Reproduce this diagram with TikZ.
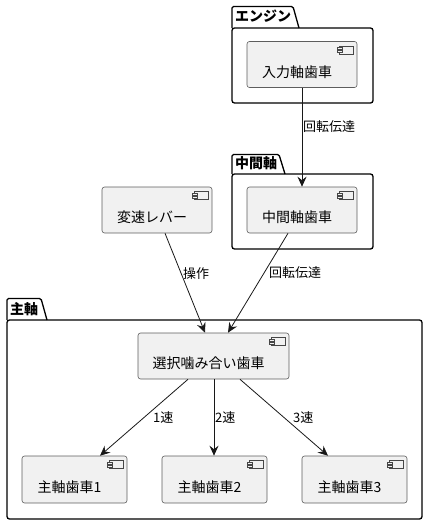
\documentclass[tikz,border=0pt]{standalone}
\usepackage{fontspec}
\setmainfont{Noto Sans CJK JP}
\usetikzlibrary{arrows.meta,calc}
\definecolor{compfill}{HTML}{F1F1F1}
\definecolor{compline}{HTML}{181818}
\tikzset{
  comp/.style={draw=compline!70, fill=compfill, line width=0.6pt, rounded corners=2.5pt,
    minimum width=110pt, minimum height=46pt, inner sep=0pt, font=\fontsize{14}{16}\selectfont,
    text height=25pt, text depth=0pt, execute at end node={\hspace{10pt}}},
  pkg/.style={draw=black, line width=1.3pt, rounded corners=2.5pt},
  pkglabel/.style={anchor=west, inner sep=0pt, font=\fontsize{14}{16}\selectfont\bfseries},
  arr/.style={draw=compline, line width=0.8pt, -{Stealth[length=10pt,width=9pt,inset=3.5pt]}},
  lbl/.style={anchor=west, inner sep=0pt, font=\fontsize{13}{15}\selectfont},
}
\newcommand{\compicon}[1]{%
  \draw[compline!80, line width=0.5pt, fill=compfill] ($(#1.north east)+(-18,5)$) rectangle ($(#1.north east)+(-4,13)$);
  \draw[compline!80, line width=0.5pt, fill=compfill] ($(#1.north east)+(-20.5,6.5)$) rectangle ($(#1.north east)+(-15.5,8.5)$);
  \draw[compline!80, line width=0.5pt, fill=compfill] ($(#1.north east)+(-20.5,9.5)$) rectangle ($(#1.north east)+(-15.5,11.5)$);
}
\begin{document}
\begin{tikzpicture}[x=1pt,y=-1pt]
\useasboundingbox (0,0) rectangle (428,525);
% packages
\draw[pkg] (232,28) rectangle (373,103);
\draw[pkg,rounded corners=1.5pt] (232,28) -- (232,6.5) -- (293,6.5) -- (299,28);
\node[pkglabel] (pkgE) at (235,16) {エンジン};
\draw[pkg] (232,174) rectangle (373,249);
\draw[pkg,rounded corners=1.5pt] (232,174) -- (232,154.5) -- (279,154.5) -- (285,174);
\node[pkglabel] (pkgM) at (235,163) {中間軸};
\draw[pkg] (7,320) rectangle (422,519);
\draw[pkg,rounded corners=1.5pt] (7,320) -- (7,298.5) -- (41,298.5) -- (47,320);
\node[pkglabel] (pkgS) at (10,309) {主軸};
% components
\node[comp] (inp) at (302,64.5) {入力軸歯車};
\node[comp] (mid) at (302,210) {中間軸歯車};
\node[comp] (lev) at (157,210) {変速レバー};
\node[comp,minimum width=151pt] (sel) at (213.5,356) {選択噛み合い歯車};
\node[comp,minimum width=105pt,minimum height=47pt] (g1) at (74.5,479.5) {主軸歯車1};
\node[comp,minimum width=105pt,minimum height=47pt] (g2) at (214.5,479.5) {主軸歯車2};
\node[comp,minimum width=105pt,minimum height=47pt] (g3) at (354.5,479.5) {主軸歯車3};
\foreach \n in {inp,mid,lev,sel,g1,g2,g3} {\compicon{\n}}
% connectors
\draw[arr] (inp.south) -- (mid.north);
\node[lbl] at (303,127) {回転伝達};
\draw[arr] ([xshift=8pt]lev.south) -- ([xshift=-8.5pt]sel.north);
\node[lbl] at (183,274) {操作};
\draw[arr] ([xshift=-14pt]mid.south) -- ([xshift=14.5pt]sel.north);
\node[lbl] at (269,273) {回転伝達};
\draw[arr] ([xshift=-25.5pt]sel.south) -- ([xshift=25.5pt]g1.north);
\node[lbl] at (153,418) {1速};
\draw[arr] ([xshift=0.5pt]sel.south) -- ([xshift=-0.5pt]g2.north);
\node[lbl] at (215,418) {2速};
\draw[arr] ([xshift=26.5pt]sel.south) -- ([xshift=-26.5pt]g3.north);
\node[lbl] at (293,418) {3速};
\end{tikzpicture}
\end{document}
